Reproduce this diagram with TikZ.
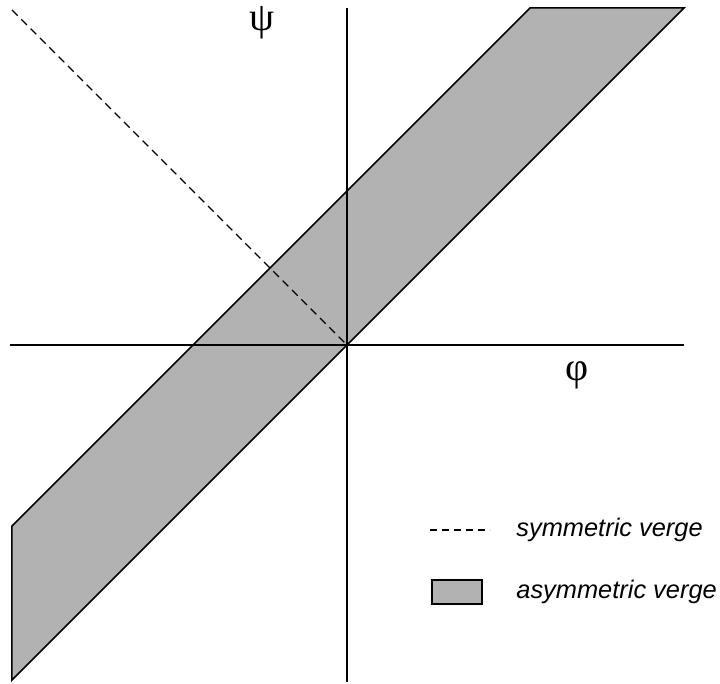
\documentclass[tikz,border=0pt]{standalone}
\usepackage{fontspec}
\setmainfont{Liberation Sans}
\newfontfamily\greekfont{Liberation Serif}
\usetikzlibrary{positioning}
\tikzset{
  axis/.style={line width=0.75pt},
  band/.style={fill=black!30,draw=black,line width=0.75pt,line join=miter},
  symline/.style={line width=0.6pt,dash pattern=on 4pt off 2.6pt},
  glbl/.style={font=\greekfont\fontsize{20}{22}\selectfont,inner sep=0pt},
  legtxt/.style={font=\itshape\fontsize{12.7}{15}\selectfont,inner sep=0pt,anchor=west},
}
\begin{document}
\begin{tikzpicture}[x=0.5pt,y=0.5pt]
  \useasboundingbox (-347,-339) rectangle (373,345);
  % asymmetric band
  \draw[band] (-335,-335) -- (337,337) -- (183,337) -- (-335,-181) -- cycle;
  % axes
  \coordinate (xl) at (-337,0);
  \coordinate (xr) at (337,0);
  \coordinate (yb) at (0,-337);
  \coordinate (yt) at (0,337);
  \draw[axis] (xl) -- (xr);
  \draw[axis] (yb) -- (yt);
  % symmetric verge
  \coordinate (o) at (0,0);
  \coordinate (sv) at (-335,335);
  \draw[symline] (sv) -- (o);
  \node[glbl] (psi) at (-85,322) {ψ};
  \node[glbl] (phi) at (230,-30) {φ};
  % legend
  \coordinate (da) at (83,-185);
  \coordinate (db) at (143,-185);
  \draw[symline,dash pattern=on 3.5pt off 2.5pt] (da) -- (db);
  \node[legtxt] (symtxt) at (169,-185) {symmetric verge};
  \draw[band,line width=0.6pt] (85,-259) rectangle (135,-235);
  \node[legtxt] (asymtxt) at (169,-247) {asymmetric verge};
\end{tikzpicture}
\end{document}
